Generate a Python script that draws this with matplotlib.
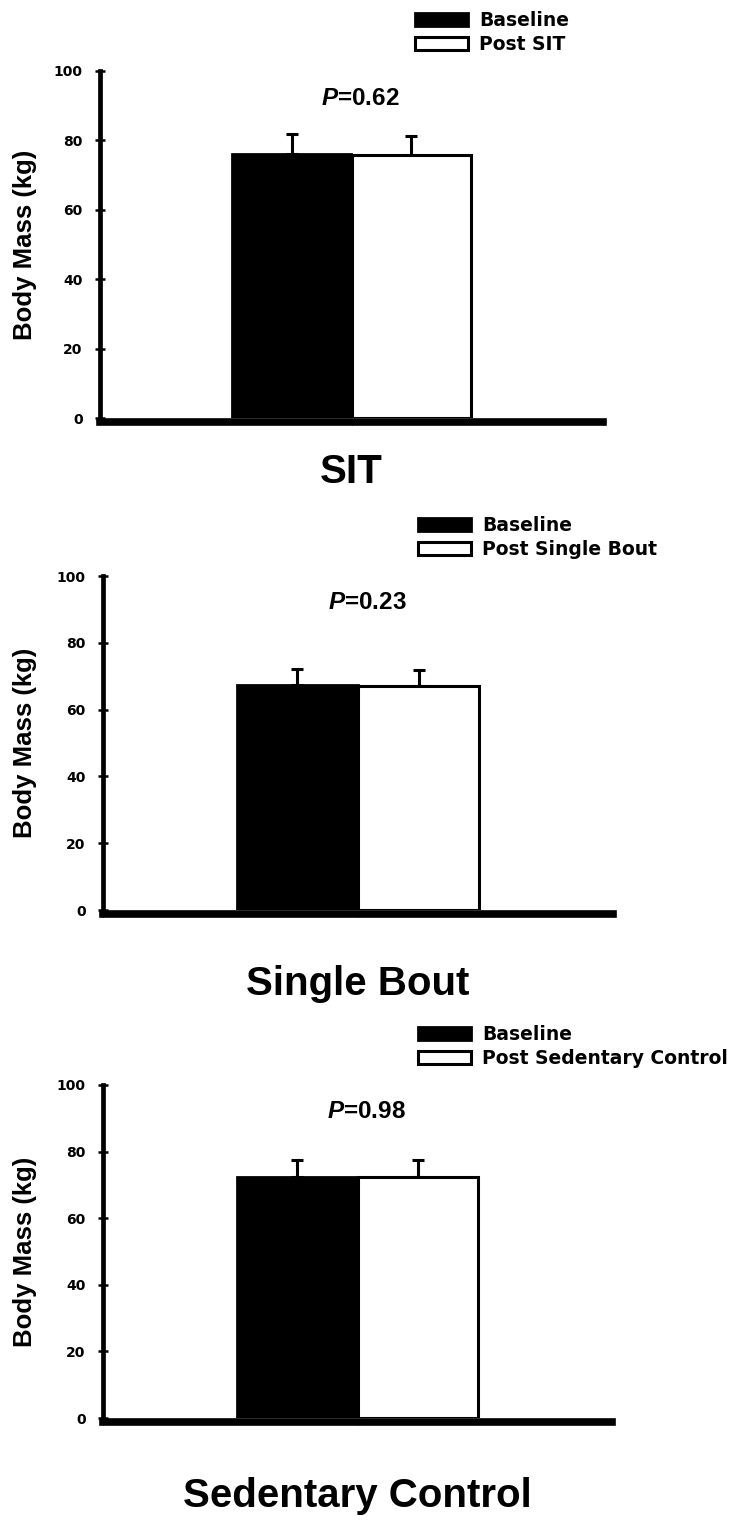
import matplotlib
matplotlib.use('Agg')
import matplotlib.pyplot as plt

# data
groups = ['SIT', 'Single Bout', 'Sedentary Control']
post_labels = ['Post SIT', 'Post Single Bout', 'Post Sedentary Control']
baseline = [76.2, 67.5, 72.5]
baseline_err = [5.6, 4.8, 5.0]
post = [75.9, 67.0, 72.3]
post_err = [5.4, 4.9, 5.2]
p_values = ['0.62', '0.23', '0.98']
yticks = [0, 20, 40, 60, 80, 100]

plt.rcParams['font.family'] = ['Liberation Sans', 'DejaVu Sans']
plt.rcParams['font.weight'] = 'bold'
plt.rcParams['mathtext.fontset'] = 'custom'
plt.rcParams['mathtext.it'] = 'Liberation Sans:italic:bold'
plt.rcParams['mathtext.rm'] = 'Liberation Sans:bold'

W, H = 739, 1520
fig = plt.figure(figsize=(W / 100, H / 100), dpi=100)

# panel boxes in pixels: left, right, top, bottom
boxes = [(100, 603, 71, 418), (103, 613, 576, 910), (103, 612, 1085, 1418)]
legend_left = [415, 418, 418]
title_base = [483, 995, 1507]

w = 0.475
for i in range(3):
    l, r, t, b = boxes[i]
    ax = fig.add_axes([l / W, 1 - b / H, (r - l) / W, (b - t) / H])

    ax.bar(1 - w / 2, baseline[i], width=w, color='black', edgecolor='black',
           linewidth=2, label='Baseline', zorder=2)
    ax.bar(1 + w / 2, post[i], width=w, color='white', edgecolor='black',
           linewidth=2.2, label=post_labels[i], zorder=2)
    ax.errorbar([1 - w / 2, 1 + w / 2], [baseline[i], post[i]],
                yerr=[[0, 0], [baseline_err[i], post_err[i]]], fmt='none',
                ecolor='black', elinewidth=2.2, capsize=4.3, capthick=2.2,
                zorder=1)

    ax.set_xlim(0, 2)
    ax.set_ylim(0, 100)
    ax.set_yticks(yticks)
    ax.set_xticks([0, 1, 2])
    ax.set_xticklabels([])
    for s in ['top', 'right']:
        ax.spines[s].set_visible(False)
    ax.spines['left'].set_linewidth(3.4)
    ax.spines['bottom'].set_linewidth(5.5)
    ax.spines['bottom'].set_position(('outward', 3))
    ax.tick_params(axis='y', direction='inout', length=7, width=1.8, pad=9)
    ax.tick_params(axis='x', direction='out', length=2, width=0.8)
    for lab in ax.get_yticklabels():
        lab.set_family('DejaVu Sans')
        lab.set_fontweight('bold')
        lab.set_fontsize(10)

    ax.text((25.5 - l) / (r - l), 0.5, 'Body Mass (kg)', transform=ax.transAxes,
            rotation=90, ha='center', va='center', fontsize=18.5, fontweight='bold')
    ax.text(1.035, 92, r'$\mathit{P}$=' + p_values[i], ha='center', va='center',
            fontsize=17.5, fontweight='bold')

    ax.legend(loc='center left', bbox_to_anchor=(legend_left[i] / W, 1 - (t - 38.5) / H),
              bbox_transform=fig.transFigure, frameon=False, borderpad=0,
              borderaxespad=0, handlelength=2.83, handleheight=0.69,
              handletextpad=0.59, labelspacing=0.24,
              prop={'family': 'DejaVu Sans', 'weight': 'bold', 'size': 13.5})

    fig.text((l + r) / 2 / W, 1 - title_base[i] / H, groups[i], ha='center',
             va='baseline', fontsize=29, fontweight='bold')

fig.savefig('out.png', dpi=100)
